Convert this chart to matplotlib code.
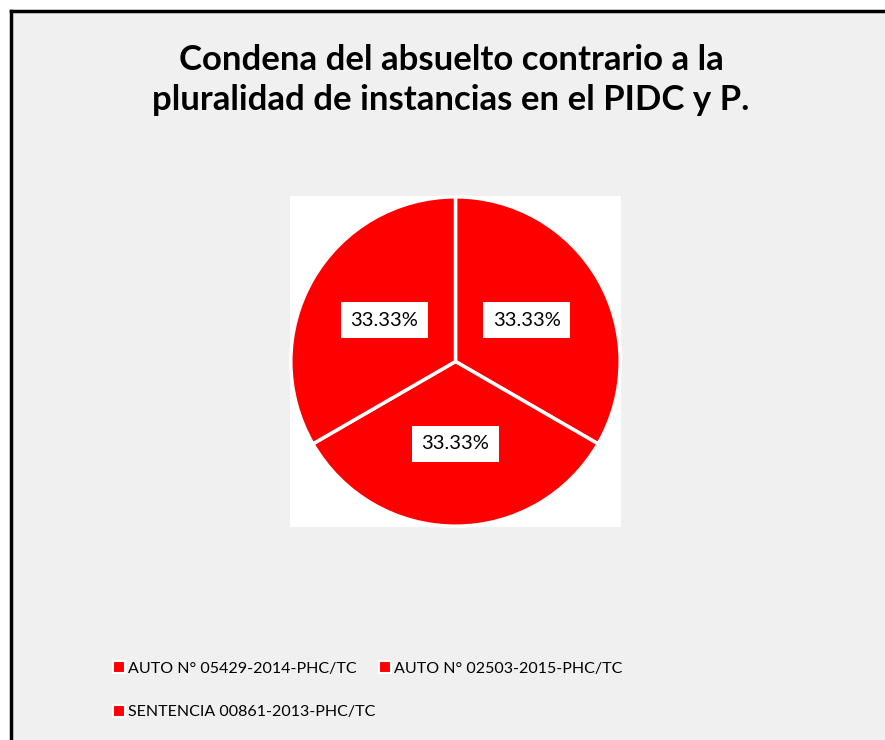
import matplotlib
matplotlib.use("Agg")
from matplotlib import pyplot as plt
from matplotlib.lines import Line2D
from matplotlib.patches import Rectangle

# chart data
labels = ["AUTO N° 05429-2014-PHC/TC", "AUTO N° 02503-2015-PHC/TC",
          "SENTENCIA 00861-2013-PHC/TC"]
values = [1, 1, 1]
colors = ["#ff0000", "#ff0000", "#ff0000"]
title = "Condena del absuelto contrario a la\npluralidad de instancias en el PIDC y P."

plt.rcParams['font.family'] = ['Lato', 'DejaVu Sans']

W, H = 885, 740
fig = plt.figure(figsize=(W / 100, H / 100), dpi=100, facecolor="white")

# gray chart area with black top / left border
fig.patches.append(Rectangle((11 / W, 0), 1, 1 - 11 / H, transform=fig.transFigure,
                             facecolor="#f0f0f0", edgecolor="none", zorder=-10))
fig.add_artist(Line2D([10.5 / W, 1], [1 - 10.5 / H] * 2, color="black", lw=2.5))
fig.add_artist(Line2D([10.5 / W] * 2, [0, 1 - 10.5 / H], color="black", lw=2.5))

fig.text(451 / W, 1 - 80 / H, title, ha="center", va="center",
         fontsize=25, fontweight="bold", linespacing=1.33)

ax = fig.add_axes([289 / W, 1 - 527 / H, 333 / W, 331 / H])
wedges, texts, autotexts = ax.pie(
    values, colors=colors, startangle=90, counterclock=False,
    autopct='%.2f%%', pctdistance=0.5,
    wedgeprops=dict(edgecolor="white", linewidth=2.5),
    textprops=dict(fontsize=14.5, color="black"),
)
for t in autotexts:
    t.set_bbox(dict(boxstyle="square,pad=0.47", facecolor="white", edgecolor="none"))
ax.set_xlim(-1.005, 1.005)
ax.set_ylim(-1.005, 1.005)
ax.set_frame_on(True)
ax.set_facecolor("white")
for s in ax.spines.values():
    s.set_visible(False)

handles = [Line2D([], [], linestyle="none", marker="s", markersize=9,
                  markerfacecolor=c, markeredgecolor="white", markeredgewidth=1.5)
           for c in colors]
# reorder so entries fill row by row
order = [0, 2, 1]
fig.legend([handles[i] for i in order], [labels[i] for i in order],
           loc="upper left", bbox_to_anchor=(100 / W, 1 - 647 / H), ncol=2,
           frameon=False, fontsize=11.5, handlelength=0.6, handletextpad=0.25,
           columnspacing=0.3, labelspacing=1.85)

fig.savefig("out.png", dpi=100, facecolor=fig.get_facecolor())
